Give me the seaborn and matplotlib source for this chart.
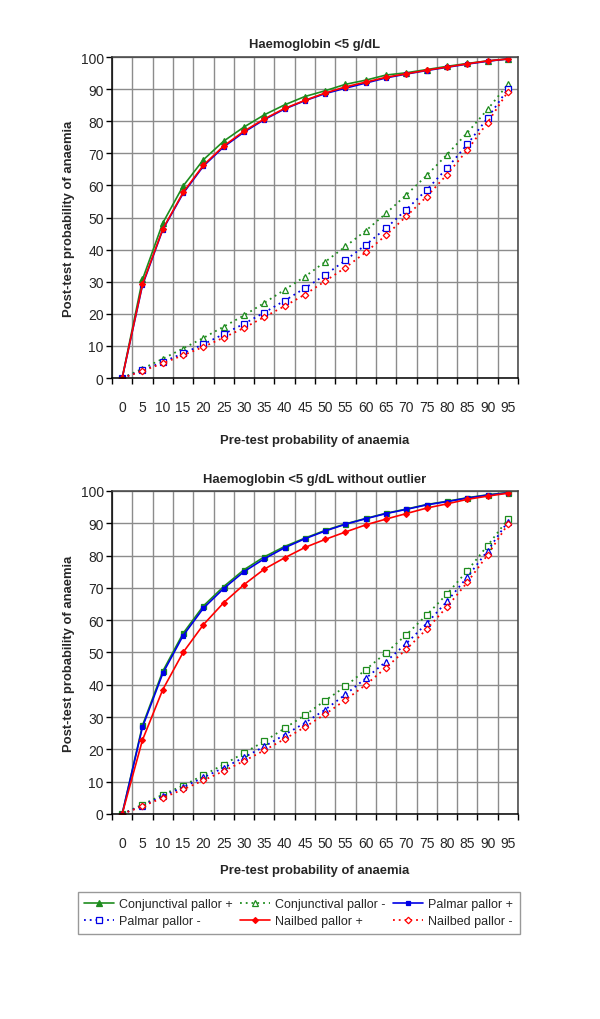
import seaborn as sns
import matplotlib.pyplot as plt

# ---- data -----------------------------------------------------------------
pretest = [0, 5, 10, 15, 20, 25, 30, 35, 40, 45, 50, 55, 60, 65, 70, 75, 80, 85, 90, 95]

# Haemoglobin <5 g/dL
conj_pos_a = [0, 30.7, 48.3, 59.8, 68.0, 73.8, 78.2, 82.0, 85.1, 87.7, 89.5, 91.5, 92.8, 94.4, 95.1, 96.1, 97.1, 98.0, 98.8, 99.4]
palm_pos_a = [0, 28.9, 46.2, 57.5, 66.0, 72.0, 76.6, 80.5, 83.8, 86.4, 88.6, 90.3, 91.9, 93.5, 94.7, 95.8, 96.8, 97.8, 98.7, 99.4]
nail_pos_a = [0, 29.2, 46.4, 57.8, 66.3, 72.3, 76.9, 80.7, 84.0, 86.5, 88.8, 90.7, 92.2, 93.7, 94.8, 95.9, 96.9, 97.9, 98.8, 99.4]
conj_neg_a = [0, 2.9, 6.0, 9.2, 12.5, 16.0, 19.5, 23.4, 27.5, 31.6, 36.2, 41.0, 45.9, 51.3, 57.1, 63.1, 69.6, 76.4, 83.7, 91.5]
palm_neg_a = [0, 2.4, 5.0, 7.7, 10.5, 13.7, 16.9, 20.4, 24.1, 28.0, 32.1, 36.7, 41.5, 46.7, 52.5, 58.6, 65.4, 72.8, 81.0, 90.0]
nail_neg_a = [0, 2.2, 4.6, 7.1, 9.7, 12.6, 15.6, 19.0, 22.4, 26.0, 30.2, 34.4, 39.2, 44.5, 50.4, 56.5, 63.4, 71.0, 79.6, 89.2]

# Haemoglobin <5 g/dL without outlier
conj_pos_b = [0, 27.4, 44.2, 55.9, 64.4, 70.4, 75.6, 79.6, 82.8, 85.4, 87.8, 89.8, 91.5, 93.1, 94.4, 95.8, 96.8, 97.9, 98.8, 99.5]
palm_pos_b = [0, 26.9, 43.5, 55.2, 63.7, 69.8, 75.0, 79.0, 82.4, 85.2, 87.6, 89.7, 91.4, 93.0, 94.3, 95.7, 96.7, 97.8, 98.7, 99.4]
nail_pos_b = [0, 22.9, 38.5, 50.0, 58.6, 65.4, 71.0, 75.8, 79.3, 82.5, 85.0, 87.3, 89.5, 91.3, 93.0, 94.7, 96.0, 97.4, 98.4, 99.3]
conj_neg_b = [0, 2.9, 6.0, 8.8, 12.0, 15.3, 18.9, 22.5, 26.5, 30.6, 35.1, 39.5, 44.7, 49.9, 55.5, 61.6, 68.1, 75.3, 83.1, 91.2]
palm_neg_b = [0, 2.6, 5.5, 8.3, 11.3, 14.3, 17.5, 20.9, 24.5, 28.2, 32.3, 37.0, 42.0, 47.2, 52.8, 59.0, 65.8, 73.3, 81.5, 90.5]
nail_neg_b = [0, 2.4, 5.0, 7.6, 10.4, 13.3, 16.4, 19.7, 23.2, 26.9, 30.9, 35.3, 40.0, 45.3, 51.0, 57.2, 64.1, 71.7, 80.2, 89.7]

labels = ['Conjunctival pallor +', 'Conjunctival pallor -', 'Palmar pallor +',
          'Palmar pallor -', 'Nailbed pallor +', 'Nailbed pallor -']

GREEN = '#1e8c1e'
BLUE = '#0000e6'
RED = '#ff0000'
DOT = (0, (1, 2.2))
BOLD = 9.4

sns.set_style('white')
plt.rcParams['font.family'] = ['Liberation Sans', 'DejaVu Sans']

fig = plt.figure(figsize=(6, 10.2), dpi=100)
ax1 = fig.add_axes([0.1867, 0.6284, 0.6767, 0.3147])
ax2 = fig.add_axes([0.1867, 0.2010, 0.6767, 0.3167])


def draw(ax, vals, color, marker, filled, ls, label, ms):
    sns.lineplot(x=pretest, y=vals, ax=ax, color=color, marker=marker,
                 markersize=ms, markerfacecolor=color if filled else 'white',
                 markeredgecolor=color, markeredgewidth=0.9,
                 linestyle=ls, linewidth=1.2 if ls == '-' else 1.3,
                 label=label, legend=False)


def style(ax, title, title_pad, xlab_y):
    ax.set_xlim(-2.5, 97.5)
    ax.set_ylim(0, 100)
    ax.set_xticks(pretest)
    ax.set_xticks([p - 2.5 for p in pretest] + [97.5], minor=True)
    ax.set_yticks(range(0, 101, 10))
    ax.set_axisbelow(True)
    ax.grid(True, which='minor', axis='x', color='#8c8c8c', linewidth=1)
    ax.grid(True, which='major', axis='y', color='#8c8c8c', linewidth=1)
    ax.tick_params(axis='x', which='major', length=0, pad=16, labelsize=10)
    ax.tick_params(axis='x', which='minor', length=4, width=1, color='black',
                   direction='out', bottom=True)
    ax.tick_params(axis='y', length=4, width=1, color='black', direction='out',
                   left=True, pad=2, labelsize=10)
    for side in ['left', 'bottom']:
        ax.spines[side].set_color('black')
        ax.spines[side].set_linewidth(1.1)
    for side in ['top', 'right']:
        ax.spines[side].set_color('#404040')
        ax.spines[side].set_linewidth(1.1)
    ax.set_title(title, fontsize=BOLD, fontweight='bold', pad=title_pad)
    ax.set_xlabel('Pre-test probability of anaemia', fontsize=BOLD, fontweight='bold')
    ax.set_ylabel('Post-test probability of anaemia', fontsize=BOLD, fontweight='bold')
    ax.xaxis.set_label_coords(0.5, xlab_y)
    ax.yaxis.set_label_coords(-0.092, 0.5)


# top chart
draw(ax1, conj_neg_a, GREEN, '^', False, DOT, labels[1], 4.2)
draw(ax1, palm_neg_a, BLUE, 's', False, DOT, labels[3], 4.0)
draw(ax1, nail_neg_a, RED, 'D', False, DOT, labels[5], 3.3)
draw(ax1, conj_pos_a, GREEN, '^', True, '-', labels[0], 3.8)
draw(ax1, palm_pos_a, BLUE, 's', True, '-', labels[2], 3.4)
draw(ax1, nail_pos_a, RED, 'D', True, '-', labels[4], 3.0)
style(ax1, 'Haemoglobin <5 g/dL', 7.5, -0.175)

# bottom chart
draw(ax2, conj_neg_b, GREEN, 's', False, DOT, labels[1], 4.0)
draw(ax2, palm_neg_b, BLUE, '^', False, DOT, labels[3], 4.2)
draw(ax2, nail_neg_b, RED, 'D', False, DOT, labels[5], 3.3)
draw(ax2, conj_pos_b, GREEN, 's', True, '-', labels[0], 3.6)
draw(ax2, palm_pos_b, BLUE, 's', True, '-', labels[2], 3.4)
draw(ax2, nail_pos_b, RED, 'D', True, '-', labels[4], 3.0)
style(ax2, 'Haemoglobin <5 g/dL without outlier', 6.5, -0.155)

# shared legend, filled row by row like the original
handles, labs = ax1.get_legend_handles_labels()
lookup = dict(zip(labs, handles))
order = [labels[0], labels[3], labels[1], labels[4], labels[2], labels[5]]
leg = fig.legend([lookup[l] for l in order], order, loc='center',
                 bbox_to_anchor=(0.498, 0.104), ncol=3, fontsize=9.0,
                 frameon=True, fancybox=False, edgecolor='#808080',
                 handlelength=2.4, handletextpad=0.4, columnspacing=0.6,
                 borderpad=0.5, labelspacing=0.4)
leg.get_frame().set_linewidth(1)

fig.savefig('out.png', dpi=100, facecolor='white')
